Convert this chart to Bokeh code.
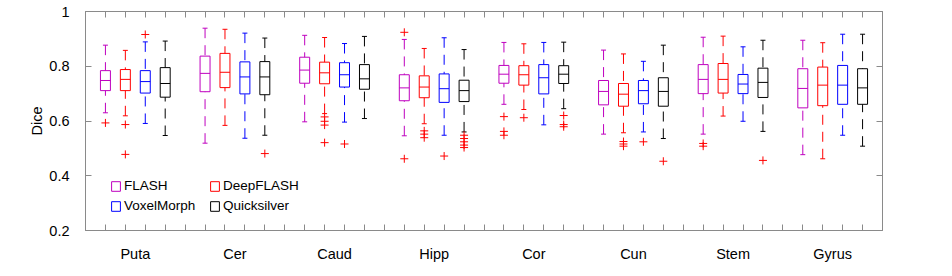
from bokeh.plotting import figure
from bokeh.models import (Range1d, LinearAxis, FixedTicker, CustomJSTickFormatter,
                          Legend, LegendItem, ColumnDataSource)
from bokeh.embed import file_html
from bokeh.resources import INLINE

# ---------------- data ----------------
categories = ["Puta", "Cer", "Caud", "Hipp", "Cor", "Cun", "Stem", "Gyrus"]
methods = ["FLASH", "DeepFLASH", "VoxelMorph", "Quicksilver"]
colors = ["#bf00bf", "#ff0000", "#0000ff", "#000000"]
y_ticks = [0.2, 0.4, 0.6, 0.8, 1.0]

flash_upper = [0.877, 0.939, 0.913, 0.898, 0.887, 0.859, 0.906, 0.895]
flash_q3    = [0.784, 0.837, 0.833, 0.769, 0.803, 0.748, 0.806, 0.791]
flash_med   = [0.748, 0.774, 0.786, 0.721, 0.771, 0.708, 0.752, 0.719]
flash_q1    = [0.711, 0.707, 0.738, 0.674, 0.738, 0.659, 0.700, 0.648]
flash_lower = [0.630, 0.519, 0.597, 0.546, 0.661, 0.552, 0.552, 0.477]
flash_out   = [[0.593], [], [], [0.924, 0.462], [0.616, 0.562, 0.548], [], [0.518, 0.508], []]

deep_upper = [0.858, 0.935, 0.905, 0.865, 0.882, 0.845, 0.910, 0.886]
deep_q3    = [0.788, 0.847, 0.815, 0.765, 0.802, 0.737, 0.810, 0.797]
deep_med   = [0.752, 0.778, 0.776, 0.724, 0.769, 0.698, 0.752, 0.731]
deep_q1    = [0.711, 0.722, 0.736, 0.685, 0.731, 0.654, 0.702, 0.656]
deep_lower = [0.619, 0.584, 0.627, 0.590, 0.642, 0.557, 0.618, 0.462]
deep_out   = [[0.587, 0.478], [], [0.615, 0.599, 0.585, 0.521], [0.564, 0.552, 0.539],
              [0.612], [0.525, 0.516, 0.508], [], []]

voxel_upper = [0.889, 0.921, 0.883, 0.904, 0.887, 0.818, 0.871, 0.917]
voxel_q3    = [0.784, 0.816, 0.813, 0.772, 0.806, 0.748, 0.770, 0.803]
voxel_med   = [0.744, 0.761, 0.769, 0.718, 0.758, 0.711, 0.735, 0.731]
voxel_q1    = [0.702, 0.699, 0.724, 0.668, 0.699, 0.663, 0.700, 0.661]
voxel_lower = [0.591, 0.537, 0.596, 0.548, 0.586, 0.560, 0.599, 0.548]
voxel_out   = [[0.916], [], [0.516], [0.472], [], [0.524], [], []]

quick_upper = [0.892, 0.903, 0.909, 0.861, 0.888, 0.877, 0.895, 0.917]
quick_q3    = [0.795, 0.817, 0.806, 0.749, 0.802, 0.758, 0.793, 0.791]
quick_med   = [0.737, 0.761, 0.754, 0.711, 0.771, 0.708, 0.741, 0.721]
quick_q1    = [0.687, 0.696, 0.716, 0.671, 0.737, 0.654, 0.686, 0.661]
quick_lower = [0.547, 0.548, 0.609, 0.560, 0.645, 0.536, 0.562, 0.508]
quick_out   = [[], [0.481], [], [0.548, 0.536, 0.524, 0.512, 0.503],
               [0.620, 0.587, 0.579], [0.453], [0.456], []]

stats = [
    (flash_upper, flash_q3, flash_med, flash_q1, flash_lower, flash_out),
    (deep_upper, deep_q3, deep_med, deep_q1, deep_lower, deep_out),
    (voxel_upper, voxel_q3, voxel_med, voxel_q1, voxel_lower, voxel_out),
    (quick_upper, quick_q3, quick_med, quick_q1, quick_lower, quick_out),
]

# ---------------- layout / style ----------------
FONT = "Liberation Sans"
GROUP_STEP = 5          # 4 boxes + 1 gap slot per region
BOX_W = 0.5
CAP_W = 0.25
N_SLOTS = GROUP_STEP * len(categories)

p = figure(width=936, height=266, output_backend="svg", toolbar_location=None,
           x_range=Range1d(0, N_SLOTS), y_range=Range1d(y_ticks[0], y_ticks[-1]),
           min_border_left=85, min_border_right=54, min_border_top=11, min_border_bottom=36,
           x_axis_location=None, y_axis_location=None)
p.xgrid.visible = False
p.ygrid.visible = False
p.outline_line_color = "#8a8a8a"
p.outline_line_width = 1
p.background_fill_color = "white"
p.border_fill_color = "white"

box_renderers = []
for m, (up, q3, med, q1, lo, outs) in enumerate(stats):
    col = colors[m]
    xs = [GROUP_STEP * g + m + 1 for g in range(len(categories))]
    src = ColumnDataSource(dict(
        x=xs, up=up, q3=q3, med=med, q1=q1, lo=lo,
        xl=[x - BOX_W / 2 for x in xs], xr=[x + BOX_W / 2 for x in xs],
        cl=[x - CAP_W / 2 for x in xs], cr=[x + CAP_W / 2 for x in xs],
    ))
    # whiskers (dashed), drawn from cap toward box
    p.segment(x0="x", y0="up", x1="x", y1="q3", source=src, line_color=col,
              line_width=1, line_dash="10 7")
    p.segment(x0="x", y0="lo", x1="x", y1="q1", source=src, line_color=col,
              line_width=1, line_dash="10 7")
    # caps
    p.segment(x0="cl", y0="up", x1="cr", y1="up", source=src, line_color=col, line_width=1)
    p.segment(x0="cl", y0="lo", x1="cr", y1="lo", source=src, line_color=col, line_width=1)
    # boxes
    box = p.vbar(x="x", width=BOX_W, top="q3", bottom="q1", source=src,
                 fill_alpha=0, line_color=col, line_width=1)
    # medians
    p.segment(x0="xl", y0="med", x1="xr", y1="med", source=src, line_color=col, line_width=1)
    # outliers
    ox, oy = [], []
    for g, vals in enumerate(outs):
        for v in vals:
            ox.append(GROUP_STEP * g + m + 1)
            oy.append(v)
    p.scatter(ox, oy, marker="cross", size=8, line_color="#ff0000", line_width=1)
    box_renderers.append(box)

# ---------------- axes ----------------
slot_ticks = list(range(1, N_SLOTS))
center_ticks = [GROUP_STEP * g + (GROUP_STEP - 1) / 2 + 0.5 for g in range(len(categories))]

AX_COL = "#8a8a8a"

xb = LinearAxis(ticker=FixedTicker(ticks=center_ticks, minor_ticks=slot_ticks),
                formatter=CustomJSTickFormatter(args=dict(labels=categories),
                                                code="return labels[Math.round((tick - 2.5) / 5)];"))
xb.major_tick_in = 0
xb.major_tick_out = 0
xb.minor_tick_in = 6
xb.minor_tick_out = 0
xb.minor_tick_line_color = AX_COL
xb.axis_line_color = AX_COL
xb.major_label_standoff = 15
xb.major_label_text_font = FONT
xb.major_label_text_font_size = "14.5px"
xb.major_label_text_color = "black"
p.add_layout(xb, "below")

xt = LinearAxis(ticker=FixedTicker(ticks=[], minor_ticks=slot_ticks))
xt.major_tick_in = 0
xt.major_tick_out = 0
xt.minor_tick_in = 6
xt.minor_tick_out = 0
xt.minor_tick_line_color = AX_COL
xt.axis_line_color = AX_COL
xt.major_label_standoff = 0
p.add_layout(xt, "above")

yl = LinearAxis(ticker=FixedTicker(ticks=y_ticks),
                formatter=CustomJSTickFormatter(code="return tick > 0.999 ? '1' : tick.toFixed(1);"),
                axis_label="Dice")
yl.major_tick_in = 6
yl.major_tick_out = 0
yl.minor_tick_in = 0
yl.minor_tick_out = 0
yl.major_tick_line_color = AX_COL
yl.axis_line_color = AX_COL
yl.major_label_standoff = 16
yl.major_label_text_font = FONT
yl.major_label_text_font_size = "14.5px"
yl.major_label_text_color = "black"
yl.axis_label_text_font = FONT
yl.axis_label_text_font_size = "14.5px"
yl.axis_label_text_font_style = "normal"
yl.axis_label_text_color = "black"
yl.axis_label_standoff = 1
p.add_layout(yl, "left")

yr = LinearAxis(ticker=FixedTicker(ticks=[], minor_ticks=y_ticks))
yr.major_tick_in = 0
yr.major_tick_out = 0
yr.minor_tick_in = 6
yr.minor_tick_out = 0
yr.minor_tick_line_color = AX_COL
yr.axis_line_color = AX_COL
yr.major_label_standoff = 0
p.add_layout(yr, "right")

# ---------------- legend ----------------
# two columns: column 1 = FLASH, VoxelMorph; column 2 = DeepFLASH, Quicksilver
legend_order = [0, 2, 1, 3]
legend_items = [LegendItem(label=methods[i], renderers=[box_renderers[i]]) for i in legend_order]
legend = Legend(items=legend_items, ncols=2, location=(25, 17),
                glyph_width=11, glyph_height=12, label_standoff=3,
                label_width=80, spacing=5, padding=0, margin=0,
                border_line_alpha=0, background_fill_alpha=0,
                label_text_font=FONT, label_text_font_size="13.5px",
                label_text_color="black")
p.add_layout(legend, "center")

open("out.html", "w").write(file_html(p, INLINE))
